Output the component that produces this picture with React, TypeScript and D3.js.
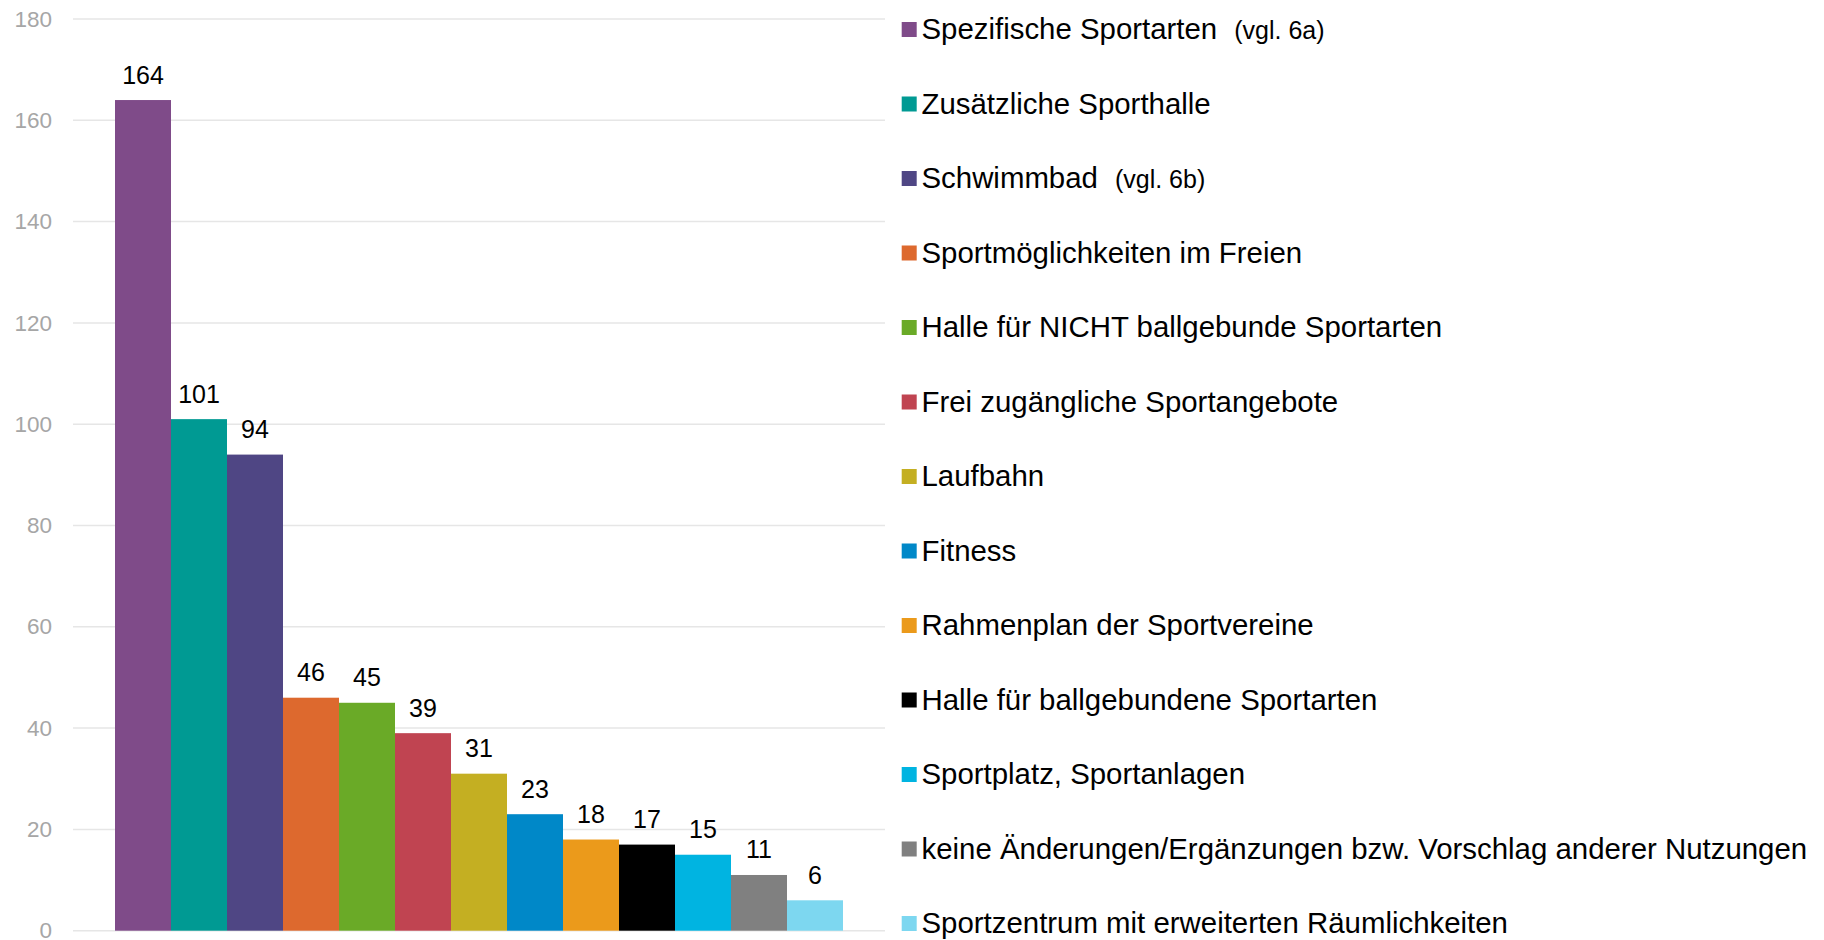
import React from "react";
import * as d3 from "d3";

const categories = [
  "Spezifische Sportarten",
  "Zusätzliche Sporthalle",
  "Schwimmbad",
  "Sportmöglichkeiten im Freien",
  "Halle für NICHT ballgebunde Sportarten",
  "Frei zugängliche Sportangebote",
  "Laufbahn",
  "Fitness",
  "Rahmenplan der Sportvereine",
  "Halle für ballgebundene Sportarten",
  "Sportplatz, Sportanlagen",
  "keine Änderungen/Ergänzungen bzw. Vorschlag anderer Nutzungen",
  "Sportzentrum mit erweiterten Räumlichkeiten",
];
const notes = ["(vgl. 6a)", "", "(vgl. 6b)", "", "", "", "", "", "", "", "", "", ""];
const values = [164, 101, 94, 46, 45, 39, 31, 23, 18, 17, 15, 11, 6];
const colors = [
  "#7f4b89",
  "#009a93",
  "#4f4684",
  "#dd692e",
  "#6aaa27",
  "#c04451",
  "#c4af22",
  "#0088c8",
  "#eb9a1b",
  "#000000",
  "#00b4e1",
  "#808080",
  "#7dd7f0",
];
const yTicks = [0, 20, 40, 60, 80, 100, 120, 140, 160, 180];

const W = 1824;
const H = 940;
const FONT = "'Liberation Sans', Arial, Helvetica, sans-serif";

export default function App() {
  const x = d3
    .scaleBand<string>()
    .domain(categories)
    .range([73, 885])
    .paddingInner(0)
    .paddingOuter(0.75);
  const y = d3.scaleLinear().domain([0, 180]).range([930.7, 19]);
  const legendY = (i: number) => 29.5 + i * 74.5;

  return (
    <svg
      width={W}
      height={H}
      style={{ position: "absolute", left: 0, top: 0, background: "#fff" }}
      fontFamily={FONT}
    >
      {yTicks.map((t) => (
        <g key={t}>
          <line x1={73} x2={885} y1={y(t)} y2={y(t)} stroke="#e6e6e6" strokeWidth={1.5} />
          <text
            x={52}
            y={y(t)}
            dy="0.34em"
            textAnchor="end"
            fontSize={22.5}
            fill="#a6a6a6"
          >
            {t}
          </text>
        </g>
      ))}
      {categories.map((c, i) => (
        <g key={c}>
          <rect
            x={x(c)!}
            y={y(values[i])}
            width={x.bandwidth()}
            height={y(0) - y(values[i])}
            fill={colors[i]}
          />
          <text
            x={x(c)! + x.bandwidth() / 2}
            y={y(values[i]) - 16.5}
            textAnchor="middle"
            fontSize={25}
            fill="#000"
          >
            {values[i]}
          </text>
        </g>
      ))}
      {categories.map((c, i) => (
        <g key={"l" + c}>
          <rect x={901.7} y={legendY(i) - 7.5} width={15} height={15} fill={colors[i]} />
          <text x={921.5} y={legendY(i)} dy="0.34em" fontSize={29.4} fill="#000">
            <tspan>{c}</tspan>
            {notes[i] ? (
              <tspan dx={17} fontSize={25}>
                {notes[i]}
              </tspan>
            ) : null}
          </text>
        </g>
      ))}
    </svg>
  );
}
